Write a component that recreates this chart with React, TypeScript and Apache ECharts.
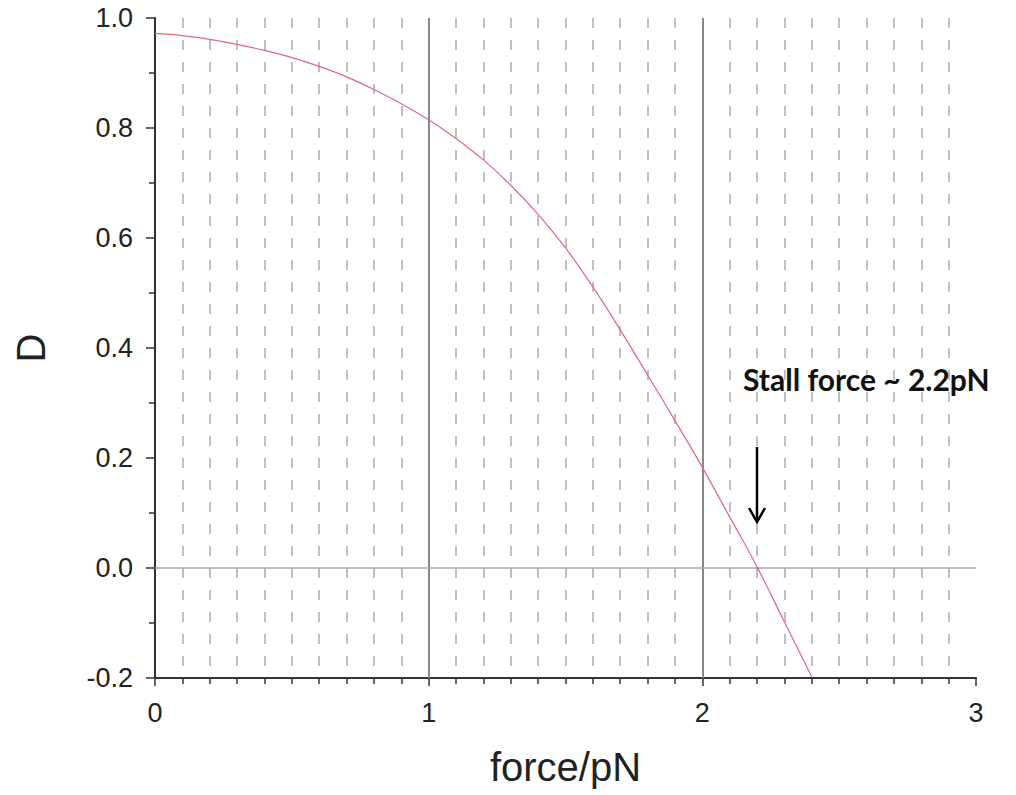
import React, { useEffect, useRef } from "react";
import * as echarts from "echarts";

const forceValues = [0, 0.1, 0.2, 0.3, 0.4, 0.5, 0.6, 0.7, 0.8, 0.9, 1.0, 1.1, 1.2, 1.3, 1.4, 1.5, 1.6, 1.7, 1.8, 1.9, 2.0, 2.1, 2.2, 2.3, 2.4];
const dValues = [0.972, 0.968, 0.961, 0.952, 0.941, 0.928, 0.912, 0.893, 0.87, 0.844, 0.815, 0.781, 0.742, 0.696, 0.643, 0.582, 0.511, 0.433, 0.351, 0.268, 0.183, 0.093, 0.002, -0.098, -0.198];
const referenceForces = [1, 2];
const baselineD = 0;
const xName = "force/pN";
const yName = "D";
const annotationText = "Stall force ~ 2.2pN";

export default function App() {
  const ref = useRef<HTMLDivElement>(null);
  useEffect(() => {
    const chart = echarts.init(ref.current!, null, { renderer: "svg" });
    const axisColor = "#333";
    const labelFont = "Liberation Sans";
    chart.setOption({
      animation: false,
      backgroundColor: "#fff",
      grid: { left: 155, top: 18, right: 40, bottom: 117, containLabel: false },
      xAxis: {
        type: "value",
        min: 0,
        max: 3,
        interval: 1,
        name: xName,
        nameLocation: "middle",
        nameGap: 69,
        nameTextStyle: { fontSize: 40, color: "#222", fontFamily: labelFont },
        axisLine: { show: true, onZero: false, lineStyle: { color: axisColor, width: 2 } },
        axisTick: { show: true, length: 8, lineStyle: { color: axisColor, width: 1.5 } },
        minorTick: { show: true, splitNumber: 10, length: 6, lineStyle: { color: axisColor, width: 1.5 } },
        splitLine: { show: false },
        minorSplitLine: { show: true, lineStyle: { color: "#aaa", width: 1.5, type: [10, 12] } },
        axisLabel: { fontSize: 27, color: "#222", margin: 21, fontFamily: labelFont, formatter: (v: number) => String(Math.round(v)) },
      },
      yAxis: {
        type: "value",
        min: -0.2,
        max: 1.0,
        interval: 0.2,
        name: yName,
        nameLocation: "middle",
        nameGap: 104,
        nameTextStyle: { fontSize: 40, color: "#222", fontFamily: labelFont },
        axisLine: { show: true, onZero: false, lineStyle: { color: axisColor, width: 2 } },
        axisTick: { show: true, length: 9, lineStyle: { color: axisColor, width: 1.5 } },
        minorTick: { show: true, splitNumber: 2, length: 6, lineStyle: { color: axisColor, width: 1.5 } },
        splitLine: { show: false },
        axisLabel: {
          fontSize: 27,
          color: "#222",
          margin: 22,
          fontFamily: labelFont,
          formatter: (v: number) => (Math.abs(v) < 1e-9 ? 0 : v).toFixed(1),
        },
      },
      series: [
        {
          type: "line",
          data: forceValues.map((f, i) => [f, dValues[i]]),
          smooth: 0.4,
          symbol: "none",
          clip: true,
          lineStyle: { color: "#e06a7a", width: 1.2 },
          markLine: {
            silent: true,
            symbol: "none",
            label: { show: false },
            lineStyle: { color: "#888", width: 2, type: "solid" },
            data: [
              ...referenceForces.map((f) => ({ xAxis: f })),
              { yAxis: baselineD, lineStyle: { color: "#aaa", width: 1.5, type: "solid" } },
            ],
          },
          z: 5,
        },
      ],
      graphic: [
        {
          type: "text",
          left: 743,
          top: 364,
          style: { text: annotationText, font: "bold 30px Lato", fill: "#111" },
          z: 10,
        },
        {
          type: "line",
          shape: { x1: 757, y1: 447, x2: 757, y2: 521 },
          style: { stroke: "#000", lineWidth: 2.5 },
          z: 10,
        },
        {
          type: "polyline",
          shape: { points: [[749, 508], [757, 522], [765, 508]] },
          style: { stroke: "#000", lineWidth: 2.5, fill: null },
          z: 10,
        },
      ],
    });
    return () => chart.dispose();
  }, []);
  return (
    <div
      ref={ref}
      style={{ position: "fixed", left: 0, top: 0, width: 1016, height: 795, background: "#fff" }}
    />
  );
}
